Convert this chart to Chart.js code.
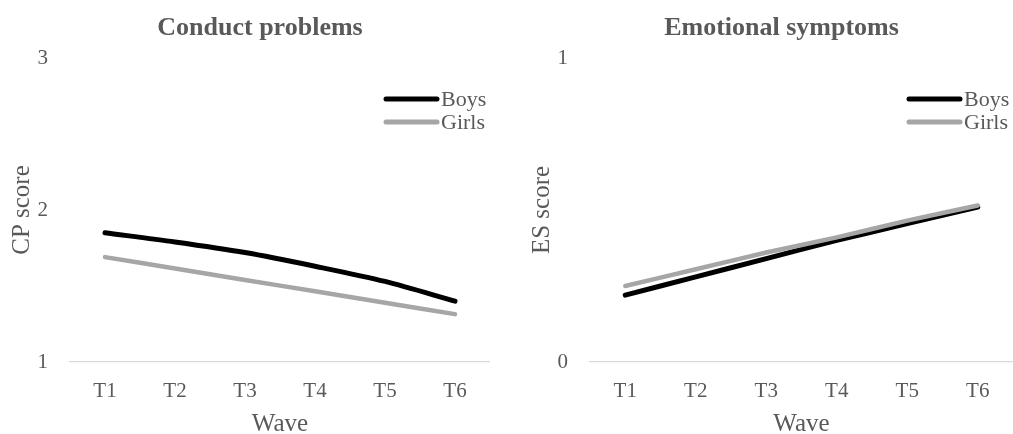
<!DOCTYPE html>
<html>
<head>
<meta charset="utf-8">
<script src="https://cdn.jsdelivr.net/npm/chart.js@4"></script>
<style>
  html, body { margin: 0; padding: 0; background: #ffffff; }
  #wrap { position: relative; width: 1013px; height: 434px; overflow: hidden; background: #fff; }
  canvas { position: absolute; top: 0; }
</style>
</head>
<body>
<div id="wrap">
  <canvas id="cp" width="490" height="434" style="left:0px"></canvas>
  <canvas id="es" width="493" height="434" style="left:520px"></canvas>
</div>
<script>
// ---- data ----
const waves = ["T1", "T2", "T3", "T4", "T5", "T6"];
const seriesNames = ["Boys", "Girls"];
const cpBoys  = [1.85, 1.79, 1.72, 1.63, 1.53, 1.40];
const cpGirls = [1.69, 1.615, 1.54, 1.465, 1.39, 1.315];
const esBoys  = [0.22, 0.28, 0.34, 0.40, 0.455, 0.51];
const esGirls = [0.25, 0.305, 0.36, 0.41, 0.465, 0.515];
const cpTicks = [1, 2, 3];
const esTicks = [0, 1];

const FONT = "'Liberation Serif', 'Times New Roman', serif";
const TXT = "#595959";
const BOY_COLOR = "#000000";
const GIRL_COLOR = "#a6a6a6";

const decorPlugin = {
  id: 'decor',
  afterDraw(chart, args, opts) {
    const ctx = chart.ctx;
    const ca = chart.chartArea;
    ctx.save();
    // title
    ctx.fillStyle = TXT;
    ctx.font = "bold 26px " + FONT;
    ctx.textAlign = 'center';
    ctx.textBaseline = 'middle';
    ctx.fillText(opts.title, (ca.left + ca.right) / 2 - 20, 28);
    // legend
    chart.data.datasets.forEach((ds, i) => {
      const y = 99 + i * 23;
      ctx.strokeStyle = ds.borderColor;
      ctx.lineWidth = 5;
      ctx.lineCap = 'round';
      ctx.beginPath();
      ctx.moveTo(ca.right - 104, y);
      ctx.lineTo(ca.right - 53, y);
      ctx.stroke();
      ctx.fillStyle = TXT;
      ctx.font = "22px " + FONT;
      ctx.textAlign = 'left';
      ctx.textBaseline = 'middle';
      ctx.fillText(ds.label, ca.right - 49, y + 1);
    });
    ctx.restore();
  }
};

function makeChart(id, title, yTitle, boys, girls, ticks) {
  const tickMin = Math.min(...ticks), tickMax = Math.max(...ticks);
  return new Chart(document.getElementById(id), {
    type: 'line',
    data: {
      labels: waves,
      datasets: [
        { label: seriesNames[0], data: boys, borderColor: BOY_COLOR, borderWidth: 5,
          pointRadius: 0, tension: 0.3, borderCapStyle: 'round', order: 1, fill: false },
        { label: seriesNames[1], data: girls, borderColor: GIRL_COLOR, borderWidth: 4.5,
          pointRadius: 0, tension: 0.3, borderCapStyle: 'round', order: 0, fill: false }
      ]
    },
    options: {
      responsive: false,
      animation: false,
      events: [],
      layout: { padding: { top: 58, bottom: 0, left: 0, right: 0 } },
      plugins: {
        legend: { display: false },
        title: { display: false },
        tooltip: { enabled: false },
        decor: { title: title }
      },
      scales: {
        x: {
          offset: true,
          grid: { display: false, drawTicks: false },
          border: { display: true, color: '#d9d9d9', width: 1.2 },
          ticks: { color: TXT, font: { family: FONT, size: 21 }, padding: 17 },
          title: { display: true, text: 'Wave', color: TXT,
                   font: { family: FONT, size: 25, lineHeight: 0.75 }, padding: { top: 0, bottom: 0 } },
          afterFit(scale) { scale.height = 72; }
        },
        y: {
          min: tickMin, max: tickMax,
          afterBuildTicks(scale) { scale.ticks = ticks.map(v => ({ value: v })); },
          grid: { display: false, drawTicks: false },
          border: { display: false },
          ticks: { color: TXT, font: { family: FONT, size: 21 }, padding: 22 },
          title: { display: true, text: yTitle, color: TXT,
                   font: { family: FONT, size: 25, lineHeight: 1 }, padding: { top: 10, bottom: 0 } },
          afterFit(scale) { scale.width = 70; }
        }
      }
    },
    plugins: [decorPlugin]
  });
}

makeChart('cp', 'Conduct problems', 'CP score', cpBoys, cpGirls, cpTicks);
makeChart('es', 'Emotional symptoms', 'ES score', esBoys, esGirls, esTicks);
</script>
</body>
</html>
